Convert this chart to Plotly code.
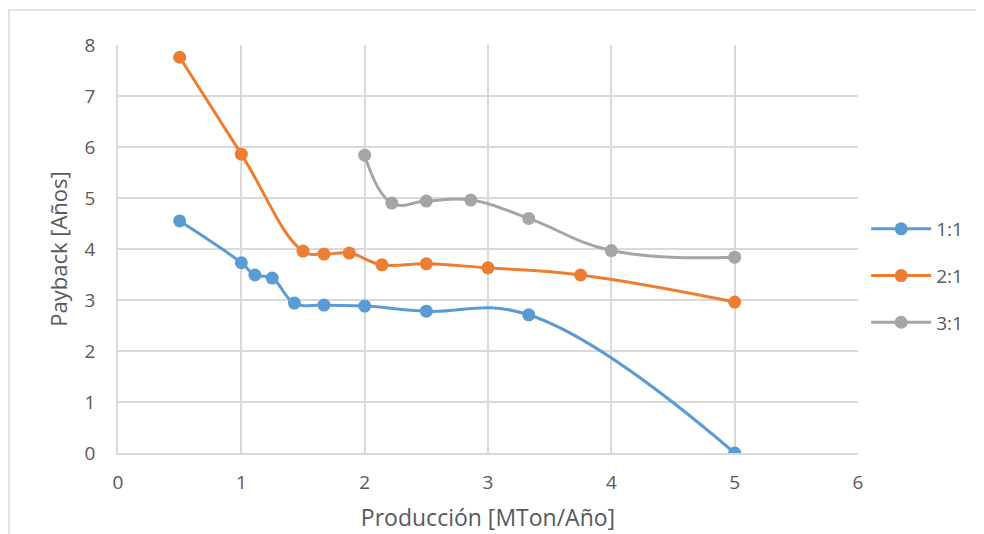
import plotly.graph_objects as go

x_11 = [0.5, 1.0, 1.11, 1.25, 1.43, 1.67, 2.0, 2.5, 3.33, 5.0]
y_11 = [4.55, 3.73, 3.49, 3.43, 2.94, 2.90, 2.88, 2.78, 2.71, 0.0]

x_21 = [0.5, 1.0, 1.5, 1.67, 1.875, 2.14, 2.5, 3.0, 3.75, 5.0]
y_21 = [7.76, 5.86, 3.96, 3.90, 3.92, 3.69, 3.71, 3.63, 3.49, 2.96]

x_31 = [2.0, 2.22, 2.5, 2.86, 3.33, 4.0, 5.0]
y_31 = [5.84, 4.90, 4.94, 4.96, 4.60, 3.97, 3.84]

series = [("1:1", x_11, y_11, "#5B9BD5"),
          ("2:1", x_21, y_21, "#ED7D31"),
          ("3:1", x_31, y_31, "#A5A5A5")]

fig = go.Figure()
for name, xs, ys, col in series:
    fig.add_trace(go.Scatter(
        x=xs, y=ys, name=name, mode="lines+markers", legendgroup=name,
        line=dict(color=col, width=3, shape="spline", smoothing=1.2),
        marker=dict(color=col, size=13),
    ))

font_fam = "Open Sans, Liberation Sans, sans-serif"
fig.update_layout(
    width=984, height=534,
    margin=dict(l=110, r=134, t=37, b=89, autoexpand=False),
    paper_bgcolor="white", plot_bgcolor="white",
    font=dict(family=font_fam, color="#595959", size=19),
    showlegend=True,
    legend=dict(x=1.011, y=(453 - 276) / 408, yanchor="middle", xanchor="left",
                font=dict(size=19, color="#595959"), tracegroupgap=19,
                itemwidth=60),
    xaxis=dict(range=[0, 6], dtick=1, showgrid=True, gridcolor="#D9D9D9",
               gridwidth=1.5, zeroline=False, showline=True, linecolor="#D9D9D9",
               linewidth=1.5, ticks="", tickfont=dict(size=19),
               ticklabelstandoff=11,
               title=dict(text="Producción [MTon/Año]", font=dict(size=23), standoff=16)),
    yaxis=dict(range=[0, 8], dtick=1, showgrid=True, gridcolor="#D9D9D9",
               gridwidth=1.5, zeroline=False, showline=True, linecolor="#D9D9D9",
               linewidth=1.5, ticks="", tickfont=dict(size=19),
               ticklabelstandoff=17,
               title=dict(text="Payback [Años]", font=dict(size=22), standoff=11)),
    shapes=[dict(type="rect", xref="paper", yref="paper",
                 x0=(9 - 118) / 740, x1=(983 - 118) / 740,
                 y0=(453 - 545) / 408, y1=(453 - 10) / 408,
                 line=dict(color="#D9D9D9", width=1.5), fillcolor="rgba(0,0,0,0)",
                 layer="below")],
)

fig.write_html("out.html")
